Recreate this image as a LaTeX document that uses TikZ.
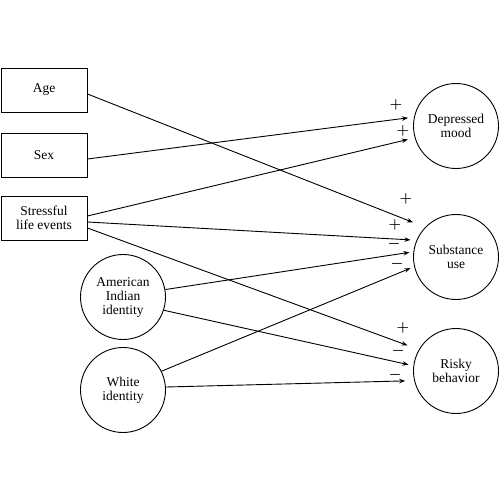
\documentclass[tikz,border=0pt]{standalone}
\usepackage{fontspec}
\setmainfont{Liberation Serif}
\usetikzlibrary{arrows.meta}

\begin{document}
\begin{tikzpicture}[x=1pt,y=-1pt]
        \useasboundingbox (0,0) rectangle (500,500);
        \begin{scope}[every node/.style={rectangle,draw,line width=0.9pt,minimum width=86pt,minimum height=44pt,align=center,font=\fontsize{13.5}{14}\selectfont}]
            \node (age) at (44, 90) {Age};
            \node (sex) at (44, 155) {Sex};
            \node (sle) at (44, 218) {Stressful\\life events};
        \end{scope}
        \begin{scope}[every node/.style={circle,draw,line width=0.9pt,minimum size=85pt,inner sep=0pt,align=center,font=\fontsize{13.5}{14}\selectfont}]
            \node (ai) at (123, 297) {American\\Indian\\identity};
            \node (wi) at (123, 390) {White\\identity};
            \node (dep) at (456, 126) {Depressed\\mood};
            \node (sub) at (456, 257) {Substance\\use};
            \node (risk) at (456, 371) {Risky\\behavior};
        \end{scope}
        \begin{scope}[every node/.style={inner sep=0pt,font=\fontsize{13.5}{14}\selectfont\boldmath}]
            \node (p1) at (396, 105) {$+$};
            \node (p2) at (403, 131) {$+$};
            \node (p3) at (406, 199) {$+$};
            \node (p4) at (395, 225) {$+$};
            \node (m1) at (394, 244) {$-$};
            \node (m2) at (397, 264) {$-$};
            \node (p5) at (403, 328) {$+$};
            \node (m3) at (398, 351) {$-$};
            \node (m4) at (395, 375) {$-$};
        \end{scope}
        \path [-{Stealth[length=6pt,width=4.5pt]}] ([yshift=-4pt]age.east) edge[draw=black,line width=0.9pt,shorten >=13pt] (sub.136);
        \path [-{Stealth[length=6pt,width=4.5pt]}] ([yshift=-4pt]sex.east) edge[draw=black,line width=0.9pt,shorten >=6pt] (dep.168);
        \path [-{Stealth[length=6pt,width=4.5pt]}] ([yshift=2pt]sle.east) edge[draw=black,line width=0.9pt,shorten >=7pt] (dep.196);
        \path [-{Stealth[length=6pt,width=4.5pt]}] ([yshift=-4pt]sle.east) edge[draw=black,line width=0.9pt,shorten >=6pt] (sub.157);
        \path [-{Stealth[length=6pt,width=4.5pt]}] ([yshift=-10pt]sle.east) edge[draw=black,line width=0.9pt,shorten >=12pt] (risk.150);
        \path [-{Stealth[length=6pt,width=4.5pt]}] (ai.10) edge[draw=black,line width=0.9pt,shorten >=4pt] (sub.173);
        \path [-{Stealth[length=6pt,width=4.5pt]}] (ai.-18) edge[draw=black,line width=0.9pt,shorten >=5pt] (risk.173);
        \path [-{Stealth[length=6pt,width=4.5pt]}] (wi.26) edge[draw=black,line width=0.9pt,shorten >=4pt] (sub.193);
        \path [-{Stealth[length=6pt,width=4.5pt]}] (wi.4) edge[draw=black,line width=0.9pt,shorten >=9pt] (risk.193);
    \end{tikzpicture}
\end{document}
